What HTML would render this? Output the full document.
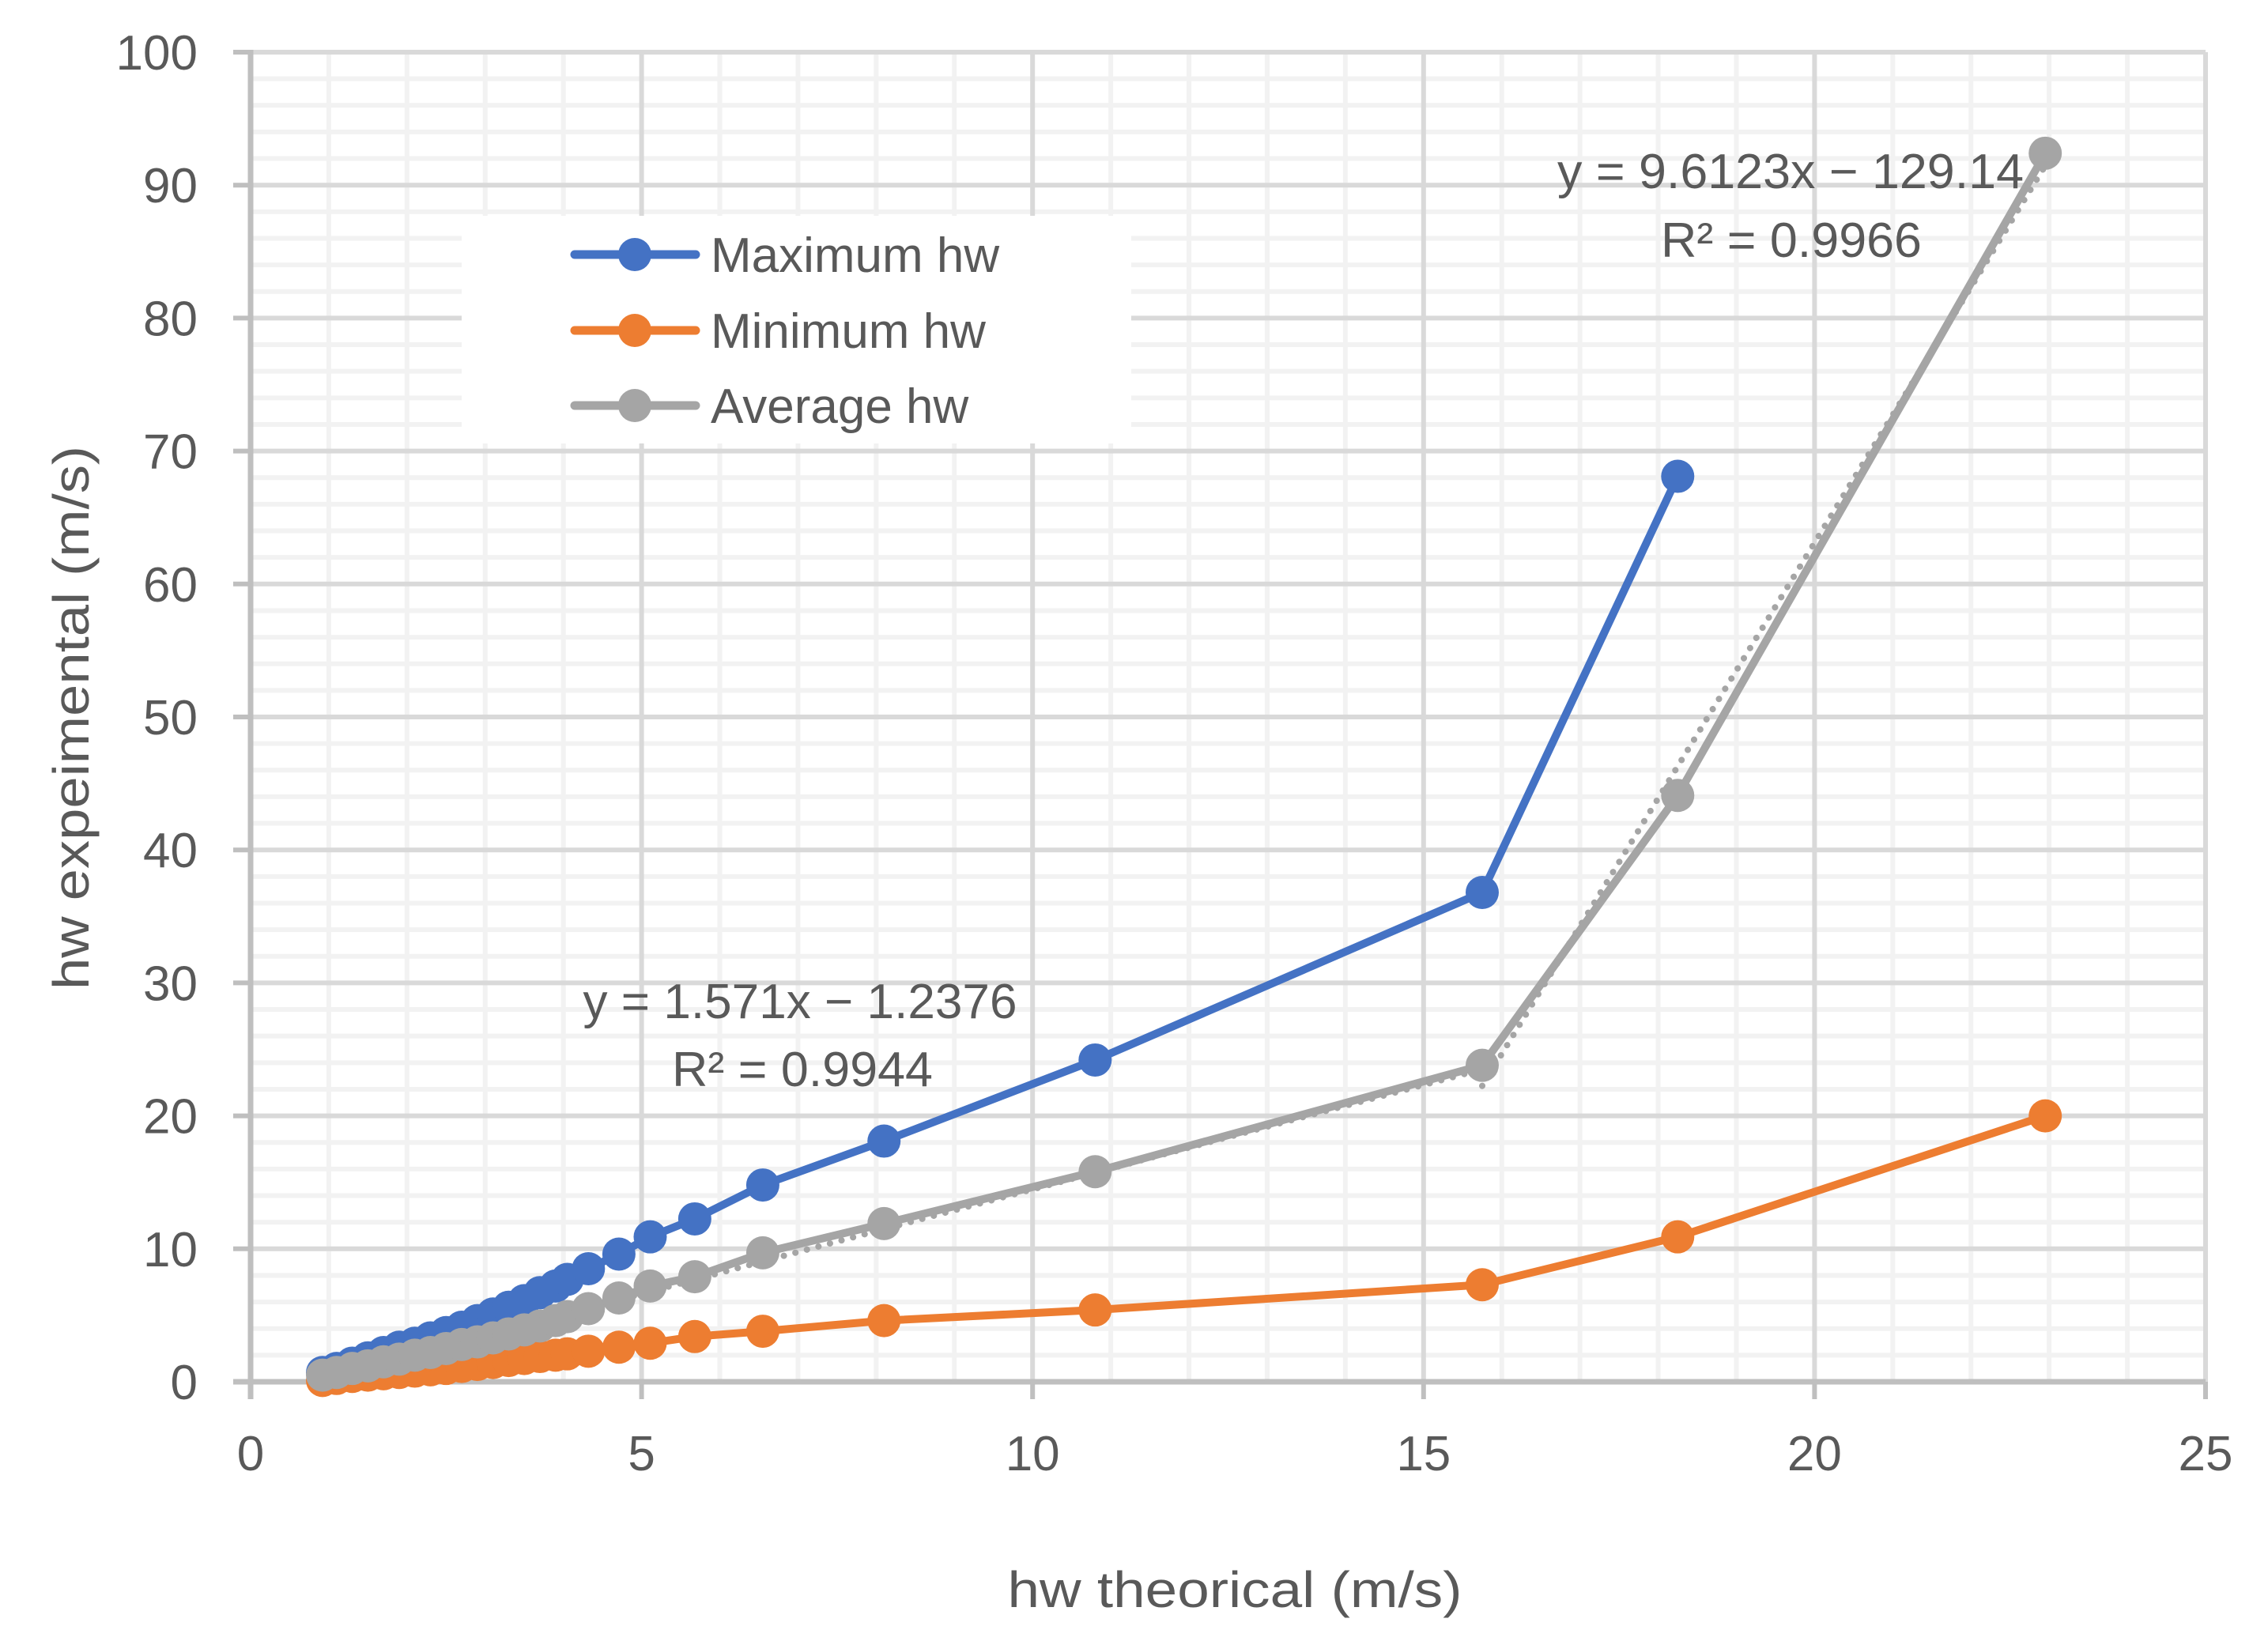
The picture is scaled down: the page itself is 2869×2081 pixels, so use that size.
<!DOCTYPE html>
<html><head><meta charset="utf-8"><style>
html,body{margin:0;padding:0;background:#fff;}
svg{display:block;font-family:"Liberation Sans",sans-serif;}
</style></head><body>
<svg id="chart" width="2869" height="2081" viewBox="0 0 2869 2081">
<rect x="0" y="0" width="2869" height="2081" fill="#fff"/>
<g id="grid"></g>
<g id="axes"></g>
<g id="series"></g>
<g id="legend">
  <rect x="584" y="273" width="847" height="288" fill="#fff"/>
</g>
<g id="labels" fill="#595959">
  <text x="1562" y="2033" font-size="64" text-anchor="middle" textLength="575" lengthAdjust="spacingAndGlyphs">hw theorical (m/s)</text>
  <text transform="translate(112,908) rotate(-90)" font-size="64" text-anchor="middle" textLength="688" lengthAdjust="spacingAndGlyphs">hw expeimental (m/s)</text>
  <text x="1012" y="1288" font-size="62" text-anchor="middle" textLength="549" lengthAdjust="spacingAndGlyphs">y = 1.571x − 1.2376</text>
  <text x="1015" y="1374" font-size="62" text-anchor="middle" textLength="330" lengthAdjust="spacingAndGlyphs">R² = 0.9944</text>
  <text x="2265" y="238" font-size="62" text-anchor="middle" textLength="590" lengthAdjust="spacingAndGlyphs">y = 9.6123x − 129.14</text>
  <text x="2266" y="325" font-size="62" text-anchor="middle" textLength="330" lengthAdjust="spacingAndGlyphs">R² = 0.9966</text>
</g>
</svg>
<script>
const xTicks = [0,5,10,15,20,25];
const yTicks = [0,10,20,30,40,50,60,70,80,90,100];
const maxX = [0.92,1.1,1.3,1.5,1.7,1.9,2.1,2.3,2.5,2.7,2.9,3.1,3.3,3.5,3.7,3.9,4.05,4.32,4.71,5.11,5.68,6.55,8.1,10.8,15.75,18.25];
const maxY = [0.7,1.0,1.4,1.8,2.2,2.6,2.9,3.3,3.7,4.1,4.6,5.1,5.6,6.1,6.7,7.2,7.7,8.5,9.6,10.9,12.25,14.8,18.1,24.2,36.8,68.1];
const minX = [0.92,1.1,1.3,1.5,1.7,1.9,2.1,2.3,2.5,2.7,2.9,3.1,3.3,3.5,3.7,3.9,4.05,4.32,4.71,5.11,5.68,6.55,8.1,10.8,15.75,18.25,22.95];
const minY = [0.1,0.25,0.4,0.5,0.6,0.7,0.8,0.9,1.0,1.15,1.3,1.45,1.6,1.75,1.9,2.0,2.1,2.3,2.6,2.9,3.4,3.8,4.6,5.4,7.3,10.9,20.0];
const avgX = [0.92,1.1,1.3,1.5,1.7,1.9,2.1,2.3,2.5,2.7,2.9,3.1,3.3,3.5,3.7,3.9,4.05,4.32,4.71,5.11,5.68,6.55,8.1,10.8,15.75,18.25,22.95];
const avgY = [0.5,0.7,1.0,1.2,1.5,1.7,2.0,2.2,2.5,2.8,3.0,3.3,3.6,3.9,4.2,4.6,4.9,5.5,6.3,7.2,7.9,9.7,11.9,15.8,23.8,44.1,92.4];
const trendLowX = [0.92,15.75];
const trendHighX = [15.75,22.95];
const trendLowCoef = [1.571,-1.2376];
const trendHighCoef = [9.6123,-129.14];

const X0=317, X1=2790, Y0=1748, Y1=66;
const sx = v => X0 + (v-0)/(25-0)*(X1-X0);
const sy = v => Y0 - (v-0)/(100-0)*(Y0-Y1);
const NS='http://www.w3.org/2000/svg';
function mk(tag, parent, attrs){const e=document.createElementNS(NS,tag);for(const k in attrs)e.setAttribute(k,attrs[k]);parent.appendChild(e);return e;}
const grid=document.getElementById('grid'), axes=document.getElementById('axes'), series=document.getElementById('series'), legend=document.getElementById('legend'), labels=document.getElementById('labels');

// minor grid
for(let v=1; v<25; v++){ if(v%5===0) continue;
  const l=mk('line',grid,{x1:sx(v),x2:sx(v),y1:Y1,y2:Y0,stroke:'#f2f2f2','stroke-width':6});
  
  
}
for(let v=2; v<100; v+=2){ if(v%10===0) continue;
  const l=mk('line',grid,{x1:X0,x2:X1,y1:sy(v),y2:sy(v),stroke:'#f2f2f2','stroke-width':6});
  
  
}
// major grid
xTicks.forEach(v=>{ if(v===0) return;
  const l=mk('line',grid,{x1:sx(v),x2:sx(v),y1:Y1,y2:Y0,stroke:'#d9d9d9','stroke-width':6});
  
  
});
yTicks.forEach(v=>{ if(v===0) return;
  const l=mk('line',grid,{x1:X0,x2:X1,y1:sy(v),y2:sy(v),stroke:'#d9d9d9','stroke-width':6});
  
  
});
// axes
const ya=mk('line',axes,{x1:X0,x2:X0,y1:Y1-3,y2:Y0+22,stroke:'#bfbfbf','stroke-width':7});


const xa=mk('line',axes,{x1:X0-22,x2:X1,y1:Y0,y2:Y0,stroke:'#bfbfbf','stroke-width':7});


yTicks.forEach(v=>{
  const t=mk('line',axes,{x1:X0-22,x2:X0,y1:sy(v),y2:sy(v),stroke:'#bfbfbf','stroke-width':6});
  
  
  const tx=mk('text',labels,{x:250,y:sy(v)+22,'font-size':62,'text-anchor':'end'});
  tx.textContent=String(v);
  
  
});
xTicks.forEach(v=>{
  const t=mk('line',axes,{x1:sx(v),x2:sx(v),y1:Y0,y2:Y0+22,stroke:'#bfbfbf','stroke-width':6});
  
  
  const tx=mk('text',labels,{x:sx(v),y:1860,'font-size':62,'text-anchor':'middle'});
  tx.textContent=String(v);
  
  
});

function drawSeries(xs, ys, color, name){
  const g=mk('g',series,{});
  
  
  const pts=xs.map((x,i)=>sx(x)+','+sy(ys[i])).join(' ');
  const pl=mk('polyline',g,{points:pts,fill:'none',stroke:color,'stroke-width':10,'stroke-linejoin':'round','stroke-linecap':'round'});
  
  
  xs.forEach((x,i)=>{
    const c=mk('circle',g,{cx:sx(x),cy:sy(ys[i]),r:21,fill:color});
    
    
  });
}
function drawTrend(xs, coef, name){
  const y0=coef[0]*xs[0]+coef[1], y1=coef[0]*xs[1]+coef[1];
  const l=mk('line',series,{x1:sx(xs[0]),y1:sy(Math.max(y0,0)),x2:sx(xs[1]),y2:sy(y1),stroke:'#a5a5a5','stroke-width':8,'stroke-dasharray':'0.1 15','stroke-linecap':'round'});
  
  
}
drawSeries(minX,minY,'#ed7d31','minimum-hw');
drawSeries(maxX,maxY,'#4472c4','maximum-hw');
drawTrend(trendLowX,trendLowCoef,'trendline-low');
drawTrend(trendHighX,trendHighCoef,'trendline-high');
drawSeries(avgX,avgY,'#a5a5a5','average-hw');

const legItems=[['Maximum hw','#4472c4',322],['Minimum hw','#ed7d31',418],['Average hw','#a5a5a5',513]];
legItems.forEach(it=>{
  const g=mk('g',legend,{});
  
  
  mk('line',g,{x1:727,x2:880,y1:it[2],y2:it[2],stroke:it[1],'stroke-width':11,'stroke-linecap':'round'});
  mk('circle',g,{cx:803,cy:it[2],r:21,fill:it[1]});
  const t=mk('text',g,{x:899,y:it[2]+22,'font-size':62,fill:'#595959'});
  t.textContent=it[0];
  
  
});
</script>
</body></html>
